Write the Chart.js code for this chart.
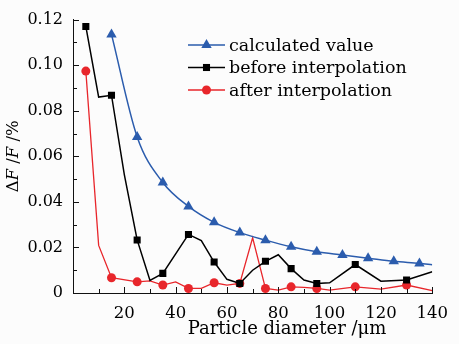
<!DOCTYPE html>
<html lang="en">
  <head>
    <meta charset="UTF-8" />
    <title>Particle diameter error</title>
    <script src="https://cdn.jsdelivr.net/npm/chart.js@4"></script>
    <style>
      html, body { margin: 0; padding: 0; background: #fcfcfc; }
    </style>
  </head>
  <body>
    <canvas id="myChart" width="459" height="344"></canvas>

    <script>
      // values (x = particle diameter in um, y = dF/F in %)
      const calcX = [15, 25, 35, 45, 55, 65, 75, 85, 95, 105, 115, 125, 135, 140];
      const calcY = [0.1135, 0.0685, 0.0485, 0.038, 0.031, 0.0265, 0.0232, 0.0203, 0.0181, 0.0167, 0.0153, 0.0139, 0.013, 0.0124];
      const calcMarks = [15, 25, 35, 45, 55, 65, 75, 85, 95, 105, 115, 125, 135];

      const beforeX = [5, 10, 15, 20, 25, 30, 35, 45, 50, 55, 60, 65, 70, 75, 80, 85, 90, 95, 100, 110, 120, 130, 140];
      const beforeY = [0.117, 0.086, 0.0868, 0.052, 0.0233, 0.0055, 0.0086, 0.0257, 0.023, 0.0136, 0.006, 0.0042, 0.010, 0.0139, 0.0168, 0.0107, 0.0057, 0.0042, 0.0045, 0.0125, 0.0052, 0.0057, 0.0093];
      const beforeMarks = [5, 15, 25, 35, 45, 55, 65, 75, 85, 95, 110, 130];

      const afterX = [5, 10, 15, 25, 30, 35, 40, 45, 50, 55, 60, 65, 70, 75, 80, 85, 90, 95, 100, 110, 120, 130, 140];
      const afterY = [0.0974, 0.0209, 0.0067, 0.0049, 0.0053, 0.0035, 0.0049, 0.002, 0.002, 0.0045, 0.0035, 0.0042, 0.0242, 0.002, 0.0013, 0.0027, 0.0025, 0.002, 0.0013, 0.0027, 0.0017, 0.0035, 0.001];
      const afterMarks = [5, 15, 25, 35, 45, 55, 65, 75, 85, 95, 110, 130];

      const seriesNames = ['calculated value', 'before interpolation', 'after interpolation'];
      const xTitle = 'Particle diameter /\u03bcm';

      const BLUE = '#2b5cad';
      const RED = '#e8262b';
      const FONT = "'DejaVu Serif', 'Liberation Serif', serif";

      function toPoints(xs, ys) {
        return xs.map((x, i) => ({ x: x, y: ys[i] }));
      }
      function markRadius(marks, r) {
        return c => (c.raw && marks.includes(c.raw.x) ? r : 0);
      }

      const legendItems = [
        { color: BLUE, style: 'triangle', r: 6 },
        { color: '#000', style: 'rect', r: 5 },
        { color: RED, style: 'circle', r: 4.5 }
      ];

      function drawMarker(ctx, style, x, y, r) {
        ctx.beginPath();
        if (style === 'triangle') {
          for (let k = 0; k < 3; k++) {
            const a = k * 2 * Math.PI / 3;
            const px = x + Math.sin(a) * r, py = y - Math.cos(a) * r;
            k === 0 ? ctx.moveTo(px, py) : ctx.lineTo(px, py);
          }
          ctx.closePath();
        } else if (style === 'rect') {
          const s = Math.SQRT1_2 * r;
          ctx.rect(x - s, y - s, 2 * s, 2 * s);
        } else {
          ctx.arc(x, y, r, 0, Math.PI * 2);
        }
        ctx.fill();
      }

      const decorations = {
        id: 'decorations',
        afterDraw(chart) {
          const ctx = chart.ctx;
          const xs = chart.scales.x, ys = chart.scales.y;
          const area = chart.chartArea;
          ctx.save();

          // inward tick marks (major + minor)
          ctx.strokeStyle = '#111';
          ctx.lineWidth = 1;
          ctx.beginPath();
          for (let v = 0; v <= 140; v += 10) {
            const px = Math.round(xs.getPixelForValue(v)) + 0.5;
            const len = v % 20 === 0 ? 6 : 4;
            ctx.moveTo(px, area.bottom);
            ctx.lineTo(px, area.bottom - len);
          }
          for (let i = 0; i <= 12; i++) {
            const py = Math.round(ys.getPixelForValue(i / 100)) + 0.5;
            const len = i % 2 === 0 ? 6 : 4;
            ctx.moveTo(area.left, py);
            ctx.lineTo(area.left + len, py);
          }
          ctx.stroke();

          // legend: line - marker - line, then text
          ctx.font = '17.5px ' + FONT;
          ctx.textBaseline = 'middle';
          ctx.textAlign = 'left';
          legendItems.forEach((it, i) => {
            const y = 45 + i * 22.5;
            ctx.strokeStyle = it.color;
            ctx.lineWidth = 1.5;
            ctx.beginPath();
            ctx.moveTo(188, y);
            ctx.lineTo(225, y);
            ctx.stroke();
            ctx.fillStyle = it.color;
            drawMarker(ctx, it.style, 206.5, y, it.r);
            ctx.fillStyle = '#000';
            ctx.fillText(seriesNames[i], 229, y + 1);
          });

          // x axis title
          ctx.font = '18px ' + FONT;
          ctx.textAlign = 'center';
          ctx.fillText(xTitle, 287, 329);

          // y axis title with italic F
          ctx.textAlign = 'left';
          const parts = [['\u0394', ''], ['F', 'italic '], [' /', ''], ['F', 'italic '], [' /%', '']];
          let total = 0;
          parts.forEach(p => { ctx.font = p[1] + '16.5px ' + FONT; total += ctx.measureText(p[0]).width; });
          ctx.translate(14, (area.top + area.bottom) / 2);
          ctx.rotate(-Math.PI / 2);
          let x0 = -total / 2;
          parts.forEach(p => {
            ctx.font = p[1] + '16.5px ' + FONT;
            ctx.fillText(p[0], x0, 0);
            x0 += ctx.measureText(p[0]).width;
          });
          ctx.restore();
        }
      };

      window.addEventListener('load', setup);

      function setup() {
        const ctx = document.getElementById('myChart').getContext('2d');
        new Chart(ctx, {
          type: 'line',
          data: {
            datasets: [
              {
                label: seriesNames[0],
                data: toPoints(calcX, calcY),
                borderColor: BLUE,
                backgroundColor: BLUE,
                borderWidth: 1.5,
                cubicInterpolationMode: 'monotone',
                pointStyle: 'triangle',
                pointRadius: markRadius(calcMarks, 6),
                pointBorderWidth: 0,
                fill: false
              },
              {
                label: seriesNames[1],
                data: toPoints(beforeX, beforeY),
                borderColor: '#000',
                backgroundColor: '#000',
                borderWidth: 1.5,
                tension: 0,
                pointStyle: 'rect',
                pointRadius: markRadius(beforeMarks, 5),
                pointBorderWidth: 0,
                fill: false
              },
              {
                label: seriesNames[2],
                data: toPoints(afterX, afterY),
                borderColor: RED,
                backgroundColor: RED,
                borderWidth: 1.3,
                tension: 0,
                pointStyle: 'circle',
                pointRadius: markRadius(afterMarks, 4.5),
                pointBorderWidth: 0,
                fill: false
              }
            ]
          },
          options: {
            responsive: false,
            animation: false,
            layout: { padding: { top: 17, right: 17, left: 0, bottom: 0 } },
            plugins: { legend: { display: false }, tooltip: { enabled: false } },
            scales: {
              x: {
                type: 'linear',
                min: 0,
                max: 140,
                grid: { display: false, drawTicks: false },
                border: { display: true, color: '#111', width: 1 },
                ticks: {
                  stepSize: 20,
                  padding: 11,
                  color: '#000',
                  maxRotation: 0,
                  font: { family: FONT, size: 16.5 },
                  callback: v => (v === 0 ? '' : v)
                },
                afterFit: s => { s.height = 51; }
              },
              y: {
                min: 0,
                max: 0.12,
                grid: { display: false, drawTicks: false },
                border: { display: true, color: '#111', width: 1 },
                ticks: {
                  stepSize: 0.02,
                  padding: 10,
                  color: '#000',
                  font: { family: FONT, size: 16 },
                  callback: v => (Math.abs(v) < 1e-9 ? '0' : v.toFixed(2))
                },
                afterFit: s => { s.width = 73; }
              }
            }
          },
          plugins: [decorations]
        });
      }
    </script>
  </body>
</html>
